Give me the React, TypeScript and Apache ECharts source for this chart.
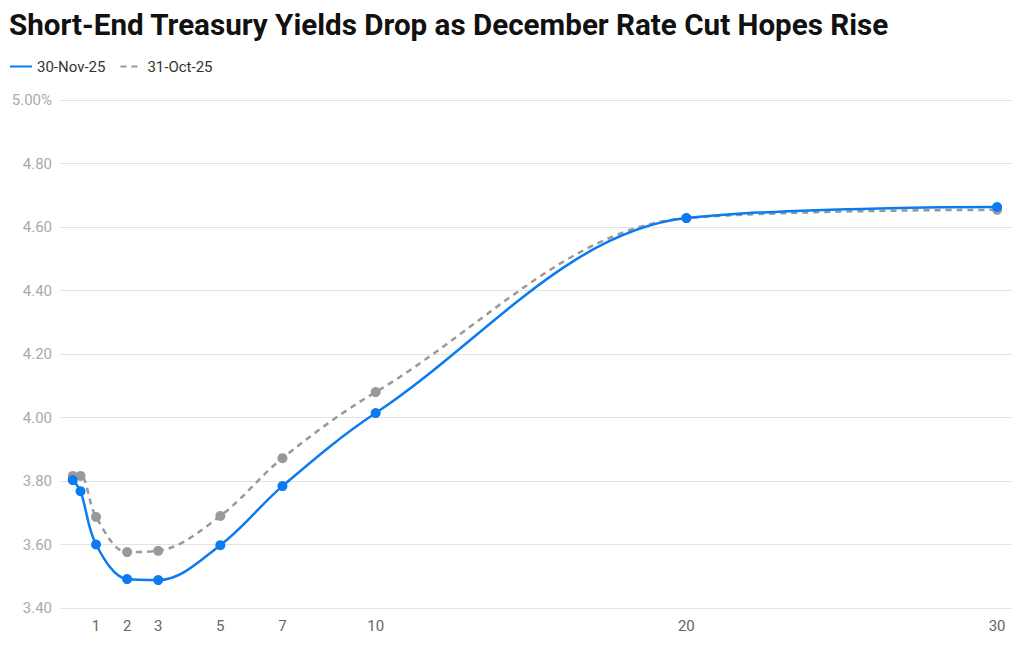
import React, { useEffect, useRef } from "react";
import * as echarts from "echarts";

const maturities = [0.25, 0.5, 1, 2, 3, 5, 7, 10, 20, 30];
const nov30 = [3.803, 3.768, 3.6, 3.491, 3.488, 3.598, 3.784, 4.014, 4.628, 4.663];
const oct31 = [3.816, 3.816, 3.687, 3.576, 3.58, 3.69, 3.872, 4.08, 4.628, 4.654];
const xTickLabels = [1, 2, 3, 5, 7, 10, 20, 30];
const seriesNames = ["30-Nov-25", "31-Oct-25"];
const titleText = "Short-End Treasury Yields Drop as December Rate Cut Hopes Rise";

export default function App() {
  const ref = useRef<HTMLDivElement>(null);
  useEffect(() => {
    document.body.style.margin = "0";
    if (!ref.current) return;
    const chart = echarts.init(ref.current, undefined, { renderer: "svg" });
    const font = "Roboto";
    chart.setOption({
      animation: false,
      textStyle: { fontFamily: font },
      title: {
        text: titleText,
        left: 4,
        top: 5,
        textStyle: { fontSize: 29.6, fontWeight: "bold", color: "#111", fontFamily: font },
      },
      legend: {
        left: 4,
        top: 54,
        itemWidth: 22,
        itemHeight: 10,
        itemGap: 14,
        textStyle: { fontSize: 15, color: "#333", fontFamily: font },
        itemStyle: { opacity: 0 },
        data: seriesNames,
      },
      grid: { left: 60, right: 5, top: 100, bottom: 41, containLabel: false },
      xAxis: {
        type: "value",
        min: -0.16,
        max: 30.48,
        axisLine: { show: false },
        axisTick: { show: false },
        splitLine: { show: false },
        axisLabel: {
          customValues: xTickLabels,
          color: "#666",
          fontSize: 15,
          margin: 10,
          fontFamily: font,
        },
      },
      yAxis: {
        type: "value",
        min: 3.4,
        max: 5.0,
        interval: 0.2,
        axisLine: { show: false },
        axisTick: { show: false },
        splitLine: { lineStyle: { color: "#e3e3e3", width: 1 } },
        axisLabel: {
          color: "#aaa",
          fontSize: 15,
          margin: 8,
          fontFamily: font,
          formatter: (v: number) => (Math.abs(v - 5) < 1e-6 ? v.toFixed(2) + "%" : v.toFixed(2)),
        },
      },
      series: [
        {
          name: seriesNames[1],
          type: "line",
          smooth: 0.35,
          data: maturities.map((m, i) => [m, oct31[i]]),
          symbol: "circle",
          symbolSize: 10,
          lineStyle: { color: "#999", width: 2.5, type: [6, 5] },
          itemStyle: { color: "#999" },
          z: 2,
        },
        {
          name: seriesNames[0],
          type: "line",
          smooth: 0.35,
          data: maturities.map((m, i) => [m, nov30[i]]),
          symbol: "circle",
          symbolSize: 10,
          lineStyle: { color: "#0b7bf2", width: 2.5 },
          itemStyle: { color: "#0b7bf2" },
          z: 3,
        },
      ],
    });
    return () => chart.dispose();
  }, []);
  return <div ref={ref} style={{ width: 1017, height: 649 }} />;
}
